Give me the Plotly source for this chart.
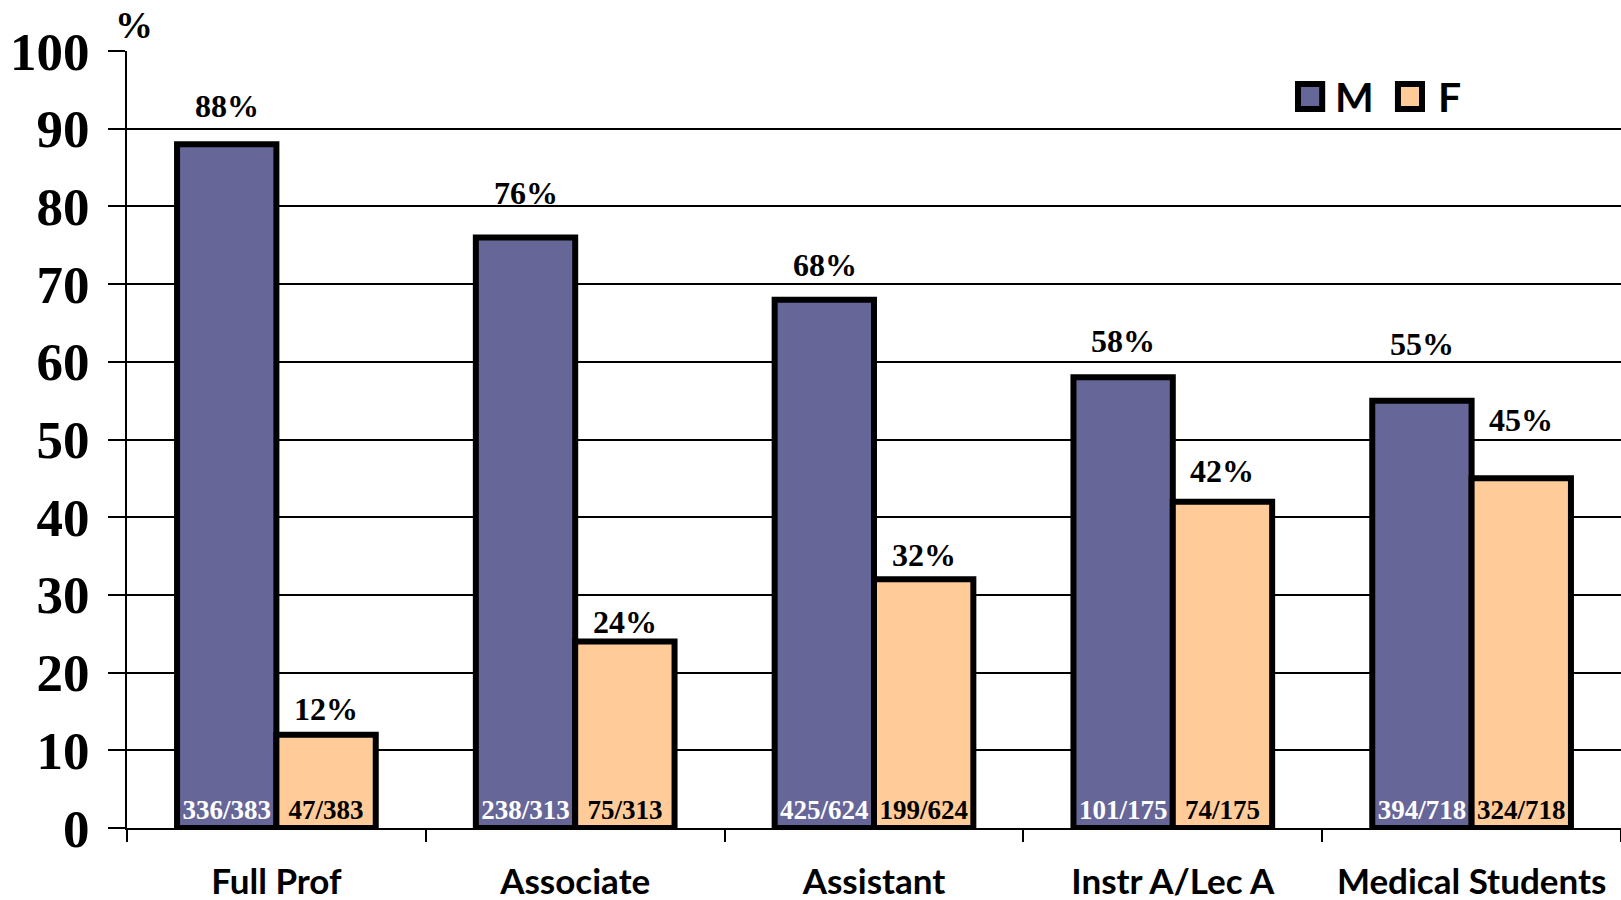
import plotly.graph_objects as go

categories = ["Full Prof", "Associate", "Assistant", "Instr A/Lec A", "Medical Students"]
male_pct = [88, 76, 68, 58, 55]
female_pct = [12, 24, 32, 42, 45]
male_counts = ["336/383", "238/313", "425/624", "101/175", "394/718"]
female_counts = ["47/383", "75/313", "199/624", "74/175", "324/718"]

# label styling offsets (pixels)
male_label_shift = [18, 24, 15, 16, 37]
female_label_shift = [6, 0, 4, 11, 38]

M_COLOR = "#666699"
F_COLOR = "#FFCC99"
SERIF = "Liberation Serif"
SANS = "Lato"

fig = go.Figure()
fig.add_trace(go.Bar(
    x=categories, y=male_pct, name="M",
    marker=dict(color=M_COLOR, line=dict(color="black", width=6)),
    text=male_counts, textposition="inside", insidetextanchor="start",
    insidetextfont=dict(family=SERIF, size=27, color="white", weight="bold"),
    constraintext="none", showlegend=False, hoverinfo="skip",
))
fig.add_trace(go.Bar(
    x=categories, y=female_pct, name="F",
    marker=dict(color=F_COLOR, line=dict(color="black", width=6)),
    text=female_counts, textposition="inside", insidetextanchor="start",
    insidetextfont=dict(family=SERIF, size=27, color="black", weight="bold"),
    constraintext="none", showlegend=False, hoverinfo="skip",
))

annotations = []
half = 49.5
for c, v, s in zip(categories, male_pct, male_label_shift):
    annotations.append(dict(x=c, y=v, text=f"{v}%", showarrow=False, xshift=-half, yshift=s,
                            yanchor="bottom", font=dict(family=SERIF, size=32, color="black", weight="bold")))
for c, v, s in zip(categories, female_pct, female_label_shift):
    annotations.append(dict(x=c, y=v, text=f"{v}%", showarrow=False, xshift=half, yshift=s,
                            yanchor="bottom", font=dict(family=SERIF, size=32, color="black", weight="bold")))

# y-axis unit label
annotations.append(dict(xref="paper", yref="paper", x=0.0047, y=1.0335, text="%", showarrow=False,
                        xanchor="center", yanchor="middle",
                        font=dict(family=SERIF, size=38, color="black", weight="bold")))
# legend text
annotations.append(dict(xref="paper", yref="paper", x=0.8075, y=0.9408, text="M", showarrow=False,
                        xanchor="left", yanchor="middle", font=dict(family=SANS, size=41, color="black", weight="bold")))
annotations.append(dict(xref="paper", yref="paper", x=0.8765, y=0.9408, text="F", showarrow=False,
                        xanchor="left", yanchor="middle", font=dict(family=SANS, size=41, color="black", weight="bold")))

shapes = [
    dict(type="rect", xref="paper", yref="paper", x0=0.7838, x1=0.8000, y0=0.9254, y1=0.9575,
         fillcolor=M_COLOR, line=dict(color="black", width=6)),
    dict(type="rect", xref="paper", yref="paper", x0=0.8507, x1=0.8668, y0=0.9254, y1=0.9575,
         fillcolor=F_COLOR, line=dict(color="black", width=6)),
]

fig.update_layout(
    width=1621, height=900,
    margin=dict(l=127, r=0, t=51, b=72, autoexpand=False),
    paper_bgcolor="white", plot_bgcolor="white",
    barmode="group", bargap=0.335, bargroupgap=0,
    annotations=annotations, shapes=shapes,
    showlegend=False,
)
fig.update_xaxes(
    showline=True, linecolor="black", linewidth=2,
    ticks="outside", tickson="boundaries", ticklen=12, tickwidth=2, tickcolor="black",
    showgrid=False, ticklabelstandoff=22, automargin=False,
    tickfont=dict(family=SANS, size=35, color="black", weight="bold"),
)
fig.update_yaxes(
    range=[0, 100], dtick=10, showline=True, linecolor="black", linewidth=2,
    ticks="outside", ticklen=17, tickwidth=2, tickcolor="black",
    showgrid=True, gridcolor="black", gridwidth=2, zeroline=False,
    ticklabelstandoff=8, automargin=False,
    tickfont=dict(family=SERIF, size=53, color="black", weight="bold"),
)

fig.write_html("out.html", config={"displayModeBar": False},
               post_script="document.body.style.margin='0';document.body.style.overflow='hidden';")
